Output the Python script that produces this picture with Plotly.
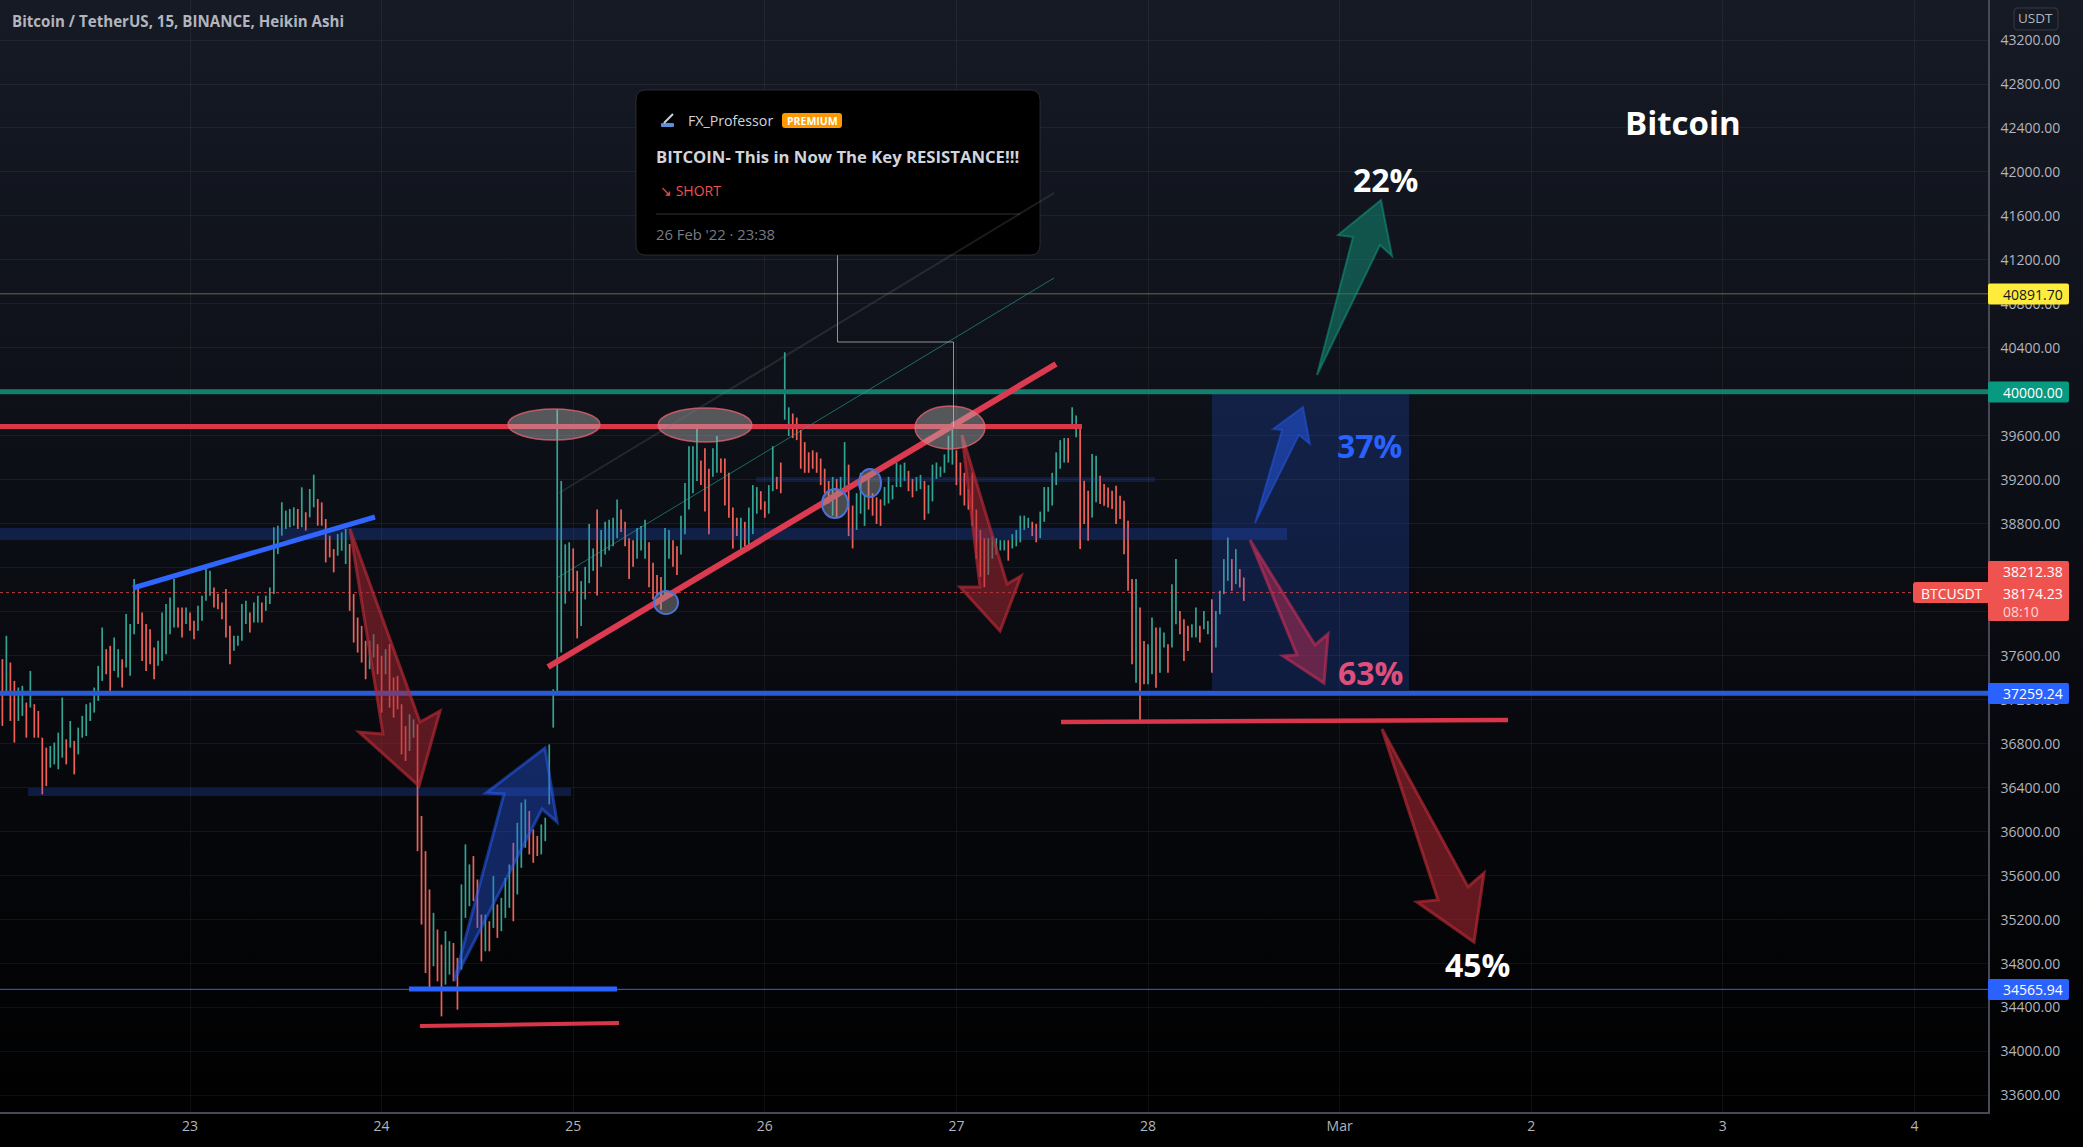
import re
import pandas as pd
import plotly.graph_objects as go

# ---------- values ----------
highs = [
 37569,37781,37538,37371,37311,37326,37174,37462,37159,37098,
 36855,36764,36779,36810,36901,37220,36840,37007,36825,36946,
 37053,37159,37174,37311,37508,37857,37660,37690,37766,37660,
 37569,37979,37888,38297,38221,37994,37888,37842,37675,37736,
 37994,38070,38130,38297,38039,38039,38039,37994,37918,38054,
 38146,38419,38373,38221,38161,38085,38206,37872,37781,37781,
 38070,38100,37994,38085,38146,38085,38146,38221,38768,38783,
 38996,38920,38935,38950,38935,39132,38905,39117,39247,39026,
 38995,38844,38692,38570,38707,38722,38753,38616,38161,37948,
 37872,37736,37736,37796,37705,37599,37660,37705,37402,37417,
 37159,36961,37068,37022,36977,36142,35823,35474,35262,35110,
 34973,35095,35004,34988,34852,35520,35884,35702,35778,35565,
 35246,35246,35186,35596,35338,35398,35580,35702,35899,36081,
 36264,36294,36188,36021,35960,36066,36127,36794,37295,39840,
 39190,38613,38632,38576,38372,38279,38409,38799,38576,38929,
 38744,38818,38836,38855,39022,38929,38818,38669,38651,38762,
 38781,38836,38632,38446,38335,38316,38762,38744,38651,38595,
 38874,39171,39505,39505,39673,39375,39487,39301,39487,39598,
 39394,39394,39264,38948,38855,38855,38818,38948,39152,39134,
 39097,39004,39152,39505,39227,39357,40360,39859,39803,39766,
 39654,39543,39450,39468,39450,39394,39301,39190,39227,39208,
 39227,39543,39338,38966,39078,39264,39059,39227,39078,39041,
 39022,39134,39227,39152,39357,39338,39357,39282,39208,39227,
 39245,39190,39152,39338,39357,39320,39431,39598,39728,39468,
 39357,39264,39115,39264,38929,38744,38669,38669,38688,38669,
 38651,38651,38651,38706,38744,38874,38874,38855,38818,38799,
 38911,39134,39134,39264,39450,39561,39580,39580,39860,39784,
 39678,39192,39101,39435,39420,39238,39162,39131,39101,39147,
 39056,39010,38828,38297,38297,38039,37735,37705,37947,37856,
 37856,37811,37705,38251,38479,38008,37932,37872,37887,38039,
 37872,38008,37917,38114,38008,38190,38479,38676,38479,38570,38388,38312,
]
lows = [
 36962,37250,37007,36810,37007,37053,36855,37129,36855,36855,
 36339,36415,36582,36612,36567,36673,36612,36764,36521,36703,
 36855,36870,37007,37083,37189,37371,37432,37280,37462,37402,
 37311,37493,37417,37796,37888,37553,37462,37523,37387,37508,
 37553,37614,37796,37857,37857,37766,37888,37827,37751,37827,
 37918,38100,38146,38039,38024,37933,37766,37523,37645,37690,
 37736,37888,37812,37903,37903,37903,38009,38070,38161,38525,
 38692,38753,38768,38783,38753,38768,38738,38859,38950,38783,
 38783,38449,38495,38358,38510,38555,38434,38009,37720,37629,
 37538,37386,37478,37584,37432,37083,37432,37128,37037,37113,
 36703,36643,36734,36855,35823,35155,34715,34579,34776,34639,
 34320,34609,34700,34639,34381,34745,35216,35322,35368,35125,
 34821,34912,34912,35125,35034,35095,35216,35307,35186,35429,
 35671,35854,35793,35717,35778,35793,35914,36248,36946,37280,
 37630,38074,38186,38186,37758,37870,38112,38260,38372,38149,
 38409,38520,38558,38595,38669,38725,38595,38297,38409,38483,
 38558,38483,38223,38112,38149,38019,38112,38483,38409,38335,
 38520,38706,38929,39078,39190,39152,38911,38706,39227,39264,
 39264,38966,38855,38576,38688,38558,38595,38613,38706,38892,
 38929,38855,38892,39097,39115,39078,39747,39598,39580,39561,
 39301,39264,39264,39301,39264,39152,39078,38985,38874,38855,
 39078,39078,38688,38576,38744,38892,38781,38929,38874,38799,
 38781,38966,38985,39022,39134,39134,39190,39097,39041,39097,
 39115,38836,38892,39004,39208,39227,39264,39357,39338,39152,
 39059,38966,38929,38781,38483,38316,38223,38335,38483,38520,
 38558,38558,38465,38576,38595,38632,38744,38762,38688,38632,
 38669,38818,38911,38966,39152,39301,39357,39357,39678,39587,
 38570,38798,38646,38858,38995,38980,38964,38949,38934,38798,
 38843,38524,38190,37522,37355,37006,37340,37340,37431,37310,
 37446,37674,37446,37674,37887,37796,37553,37644,37765,37765,
 37720,37841,37796,37446,37674,37978,38160,38281,38190,38251,38221,38099,
]
rising = [
 0,1,0,0,1,1,0,1,0,0, 0,0,1,1,1,1,0,1,0,1, 1,1,1,1,1,1,0,0,1,1, 0,1,1,1,0,0,0,0,0,1,
 1,1,1,1,0,0,1,0,0,1, 1,1,1,0,0,0,0,0,1,1, 1,1,0,1,1,0,1,1,1,1, 1,1,1,1,0,1,0,1,1,0,
 0,0,0,0,1,1,1,0,0,0, 0,0,1,1,0,0,1,0,0,0, 0,0,1,1,0,0,0,0,1,0, 0,1,1,0,0,1,1,1,0,0,
 0,1,0,1,0,1,1,1,0,1, 1,1,0,0,0,1,1,1,1,1, 1,1,1,0,0,1,1,1,1,0, 1,1,1,1,1,0,0,0,0,1,
 1,1,0,0,0,0,1,1,0,0, 1,1,1,1,1,0,0,0,1,1, 0,0,0,0,0,1,0,1,1,1, 0,0,1,1,0,0,1,1,0,0,
 0,0,0,0,0,0,0,0,1,0, 1,1,0,0,1,1,1,0,0,0, 0,1,1,1,1,1,1,0,0,1, 1,0,1,1,1,1,1,1,1,0,
 0,0,0,0,0,0,0,1,1,1, 1,1,0,1,1,1,1,1,0,0, 1,1,1,1,1,1,1,0,1,1, 0,0,0,1,1,0,0,0,0,0,
 0,0,0,0,1,0,0,1,1,0, 1,1,0,1,1,0,0,0,1,1, 0,1,1,0,1,1,1,1,0,1,0,0,
]
price_ticks = list(range(33600, 43600, 400))
hidden_price_labels = [34600, 38000, 38400]   # covered by the price tags in the picture
day_ticks = ["2022-02-23","2022-02-24","2022-02-25","2022-02-26","2022-02-27",
             "2022-02-28","2022-03-01","2022-03-02","2022-03-03","2022-03-04"]
day_labels = ["23","24","25","26","27","28","Mar","2","3","4"]
level_green = 40000
level_blue = 37259.24
level_blue_low = 34565.94
level_yellow = 40891.70
level_last = 38174.23

title_text = "Bitcoin / TetherUS, 15, BINANCE, Heikin Ashi"

# ---------- layout constants ----------
W, H = 2083, 1147
PW, PH = 1988, 1112          # plot area in page pixels
DAY0 = pd.Timestamp("2022-02-23")
PX_DAY0, PX_PER_DAY = 190.0, 191.6
P_TOP, P_PER_PX = 43564.0, 9.095


def xd(px):
    return DAY0 + pd.Timedelta(days=(px - PX_DAY0) / PX_PER_DAY)


def xs(px):
    return xd(px).strftime("%Y-%m-%d %H:%M:%S")


def yd(py):
    return P_TOP - P_PER_PX * py


dates = pd.date_range("2022-02-22 00:30", periods=len(highs), freq="30min")
opens = [l if u else h for h, l, u in zip(highs, lows, rising)]
closes = [h if u else l for h, l, u in zip(highs, lows, rising)]

shapes = []


def line(x0, y0, x1, y1, color, width, dash="solid"):
    shapes.append(dict(type="line", xref="x", yref="y", x0=xs(x0), y0=yd(y0), x1=xs(x1), y1=yd(y1),
                       line=dict(color=color, width=width, dash=dash), layer="above"))


def hline(price, x0, x1, color, width, dash="solid"):
    shapes.append(dict(type="line", xref="x", yref="y", x0=xs(x0), y0=price, x1=xs(x1), y1=price,
                       line=dict(color=color, width=width, dash=dash), layer="above"))


def band(x0, y0, x1, y1, fill):
    shapes.append(dict(type="rect", xref="x", yref="y", x0=xs(x0), y0=yd(y0), x1=xs(x1), y1=yd(y1),
                       fillcolor=fill, line=dict(width=0), layer="above"))


def oval(x0, y0, x1, y1, fill, edge, width=1.5):
    shapes.append(dict(type="circle", xref="x", yref="y", x0=xs(x0), y0=yd(y0), x1=xs(x1), y1=yd(y1),
                       fillcolor=fill, line=dict(color=edge, width=width), layer="above"))


def poly(points, fill, edge, width=3):
    d = ""
    for i, (px, py) in enumerate(points):
        d += ("M" if i == 0 else "L") + xd(px).strftime("%Y-%m-%d_%H:%M:%S") + f",{yd(py):.1f} "
    shapes.append(dict(type="path", xref="x", yref="y", path=d + "Z", fillcolor=fill,
                       line=dict(color=edge, width=width), layer="above"))


def round_box(x0, y0, x1, y1, r, fill, edge="rgba(0,0,0,0)", width=0):
    d = (f"M{x0+r},{y0} L{x1-r},{y0} Q{x1},{y0} {x1},{y0+r} L{x1},{y1-r} Q{x1},{y1} {x1-r},{y1} "
         f"L{x0+r},{y1} Q{x0},{y1} {x0},{y1-r} L{x0},{y0+r} Q{x0},{y0} {x0+r},{y0} Z")

    def conv(m):
        return f"{float(m.group(1))/PW:.5f},{1-float(m.group(2))/PH:.5f}"
    d = re.sub(r"(-?[\d.]+),(-?[\d.]+)", conv, d)
    shapes.append(dict(type="path", xref="paper", yref="paper", path=d, fillcolor=fill,
                       line=dict(color=edge, width=width), layer="above"))


annotations = []


def text(px, py, s, size, color, anchor="center", font="Open Sans", bold=False):
    annotations.append(dict(xref="paper", yref="paper", x=px / PW, y=1 - py / PH, text=f"<b>{s}</b>" if bold else s,
                            showarrow=False, xanchor=anchor, yanchor="middle",
                            font=dict(size=size, color=color, family=font)))


# ---------- chart drawings ----------
band(1212, 391, 1409, 690, "rgba(41,98,255,0.20)")
band(0, 528, 1287, 540, "rgba(41,98,255,0.22)")
band(28, 788, 571, 796, "rgba(41,98,255,0.22)")
band(756, 477, 1155, 482, "rgba(41,98,255,0.17)")
hline(level_yellow, 0, PW, "rgba(190,190,110,0.5)", 1)
hline(level_last, 0, 1913, "rgba(239,83,80,0.75)", 1, "dot")
hline(level_blue_low, 0, PW, "#2962ff", 1)
hline(level_green, 0, PW, "#137f6c", 5)
line(0, 426.5, 1082, 426.5, "#d9364a", 5)
hline(level_blue, 0, PW, "#2a5bd7", 5)
line(133, 588, 375, 517, "#2f66ff", 5)
line(548, 667, 1056, 364, "#dc3a50", 6)
line(409, 989, 617, 989, "#2962ff", 5)
line(420, 1026, 619, 1023, "#d9364a", 4)
line(1061, 722, 1508, 720, "#d9364a", 4.5)
line(557, 578, 1054, 278, "rgba(38,166,154,0.6)", 1)

RED_F, RED_E = "rgba(178,40,51,0.5)", "rgba(178,40,51,0.7)"
BLUE_F, BLUE_E = "rgba(41,98,255,0.36)", "rgba(41,98,255,0.5)"
poly([(350, 529), (420, 722), (440, 711), (419, 786), (359, 732), (383, 734)], RED_F, RED_E)
poly([(454, 981), (504, 794), (486, 793), (545, 748), (557, 822), (542, 809)], BLUE_F, BLUE_E)
poly([(962, 435), (1007, 584), (1021, 576), (1000, 631), (960, 587), (980, 587)], RED_F, RED_E)
poly([(1255, 523), (1282, 430), (1273, 429), (1303, 407), (1310, 444), (1299, 435)], "rgba(41,98,255,0.45)", "rgba(41,98,255,0.4)", 2)
poly([(1250, 540), (1315, 645), (1328, 634), (1324, 683), (1283, 656), (1297, 655)],
     "rgba(190,45,85,0.5)", "rgba(190,45,85,0.65)")
poly([(1317, 375), (1353, 237), (1338, 235), (1381, 200), (1392, 256), (1380, 245)],
     "rgba(19,127,108,0.6)", "rgba(19,150,125,0.55)", 2)
poly([(1382, 729), (1468, 887), (1484, 873), (1474, 942), (1417, 902), (1438, 900)], "rgba(178,40,51,0.55)", RED_E)

ELL_F, ELL_E = "rgba(185,185,185,0.42)", "rgba(240,100,115,0.75)"
oval(508, 409, 600, 440, ELL_F, ELL_E)
oval(658, 408, 752, 442, ELL_F, ELL_E)
oval(915, 406, 985, 449, ELL_F, ELL_E)
DOT_F, DOT_E = "rgba(160,160,160,0.42)", "#4a72d8"
oval(654, 591, 678, 614, DOT_F, DOT_E, 2)
oval(822, 489, 848, 518, DOT_F, DOT_E, 2)
oval(859, 469, 881, 497, DOT_F, DOT_E, 2)

# connector and idea card
line(837.5, 255, 837.5, 342, "rgba(200,200,200,0.7)", 1)
line(837.5, 342, 953.5, 342, "rgba(200,200,200,0.7)", 1)
line(953.5, 342, 953.5, 427, "rgba(200,200,200,0.7)", 1)
round_box(636, 90, 1040, 255, 10, "#000000", "rgba(60,62,72,0.6)", 1)
line(656, 214, 1020, 214, "rgba(255,255,255,0.2)", 1)
line(559, 493, 1054, 193, "rgba(120,123,134,0.22)", 2)
round_box(782, 113, 842, 128, 3, "#ff9800")
round_box(661, 123, 674, 127, 1, "#5b8fd6")
line(664, 123, 673, 114, "#c8d4e4", 2)
text(686, 120, "FX_Professor", 14.2, "#d1d4dc", "left")
text(812, 120.5, "PREMIUM", 10.5, "#ffffff", bold=True)
text(654, 156, "BITCOIN- This in Now The Key RESISTANCE!!!", 16.7, "#d1d4dc", "left", bold=True)
text(658, 190.5, "↘ SHORT", 14, "#ef5350", "left")
text(654, 234, "26 Feb '22 · 23:38", 14.8, "#787b86", "left")

# big labels
text(1683, 123, "Bitcoin", 33, "#ffffff", bold=True)
text(1385, 179, "22%", 32, "#ffffff", bold=True)
text(1477, 964, "45%", 32, "#ffffff", bold=True)
text(1369, 446, "37%", 32, "#2962ff", bold=True)
text(1370, 672, "63%", 32, "#e04f7c", bold=True)

# chart title
text(10, 21, title_text, 15.1, "#b2b5be", "left", bold=True)

# price scale tags
TAG_X0, TAG_X1 = 1988, 2069
round_box(2014, 8, 2058, 30, 4, "rgba(0,0,0,0)", "rgba(120,123,134,0.35)", 1)
text(2036, 18.5, "USDT", 13.5, "#b2b5be")
for py, label, bg, fg in [(294, "40891.70", "#ffeb3b", "#131722"),
                          (392, "40000.00", "#089981", "#ffffff"),
                          (693.5, "37259.24", "#2962ff", "#ffffff"),
                          (989.5, "34565.94", "#2962ff", "#ffffff")]:
    round_box(TAG_X0, py - 10.5, TAG_X1, py + 10.5, 2, bg)
    text(2001, py, label, 14, fg, "left")
round_box(TAG_X0, 561, TAG_X1, 621, 2, "#ef5350")
round_box(1913, 582, TAG_X0 + 2, 603, 3, "#ef5350")
text(2001, 571.5, "38212.38", 14, "#ffffff", "left")
text(2001, 593, "38174.23", 14, "#ffffff", "left")
text(2001, 611, "08:10", 14, "#ffd6d5", "left")
text(1919, 593, "BTCUSDT", 14, "#ffffff", "left")

# ---------- figure ----------
GREEN, RED = "#34a392", "#ef6158"
fig = go.Figure(go.Ohlc(
    x=dates, open=opens, high=highs, low=lows, close=closes, tickwidth=0,
    increasing=dict(line=dict(color=GREEN, width=1.7)),
    decreasing=dict(line=dict(color=RED, width=1.7)),
    hoverinfo="skip", showlegend=False,
))
GRID = "rgba(255,255,255,0.055)"
AXIS = "#474a55"
fig.update_layout(
    width=W, height=H, autosize=False,
    margin=dict(l=0, r=W - PW, t=0, b=H - PH, pad=0),
    paper_bgcolor="rgba(0,0,0,0)", plot_bgcolor="rgba(0,0,0,0)",
    showlegend=False, shapes=shapes, annotations=annotations,
    font=dict(family="Open Sans", color="#b2b5be", size=14),
    xaxis=dict(type="date", range=[xs(0), xs(PW)], rangeslider=dict(visible=False),
               tickmode="array", tickvals=day_ticks, ticktext=day_labels,
               showgrid=True, gridcolor=GRID, gridwidth=1, zeroline=False,
               showline=True, linecolor=AXIS, linewidth=1.5, ticks="", tickfont=dict(size=14, color="#b2b5be")),
    yaxis=dict(side="right", range=[yd(PH), yd(0)], tickmode="array", tickvals=price_ticks,
               ticktext=["" if p in hidden_price_labels else f"{p}.00" for p in price_ticks],
               showgrid=True, gridcolor=GRID, gridwidth=1,
               zeroline=False, showline=True, linecolor=AXIS, linewidth=1.5, ticks="outside",
               ticklen=8, tickcolor="rgba(0,0,0,0)", tickfont=dict(size=14, color="#b2b5be")),
)
script = ("document.documentElement.style.background='linear-gradient(#161a25,#0a0c12 52%,#000 100%)';"
          "document.documentElement.style.height='1147px';"
          "document.body.style.margin='0';document.body.style.background='transparent';"
          "document.body.style.overflow='hidden';")
fig.write_html("out.html", config={"displayModeBar": False}, post_script=script)
